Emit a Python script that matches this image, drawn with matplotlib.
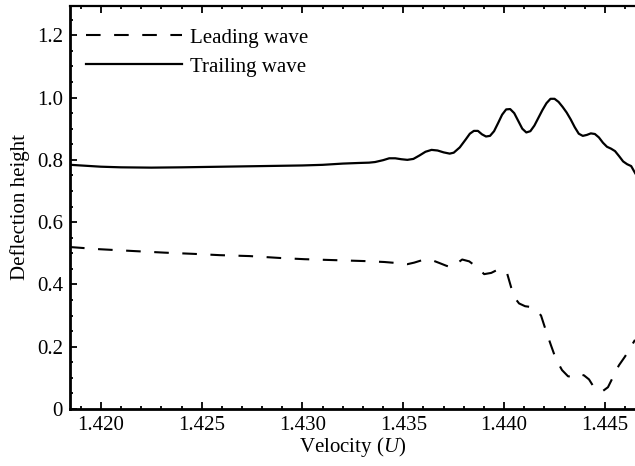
import numpy as np
import matplotlib
matplotlib.use('Agg')
import matplotlib.pyplot as plt
from matplotlib.ticker import MultipleLocator, FixedLocator

# trailing wave (solid)
trail_v = [1.4185, 1.4190, 1.4200, 1.4210, 1.4225, 1.4240, 1.4260, 1.4280, 1.4300,
           1.4310, 1.4320, 1.4328, 1.4333, 1.4336, 1.4340, 1.4343, 1.4346, 1.4349,
           1.4352, 1.4355, 1.4358, 1.4361, 1.4364, 1.4367, 1.4370, 1.4373, 1.4375,
           1.4378, 1.4381, 1.4383, 1.4385, 1.4387, 1.4389, 1.4391, 1.4393, 1.4395,
           1.4397, 1.4399, 1.4401, 1.4403, 1.4405, 1.4407, 1.4409, 1.4411, 1.4413,
           1.4415, 1.4417, 1.4419, 1.4421, 1.4423, 1.4425, 1.4427, 1.4429, 1.4431,
           1.4433, 1.4435, 1.4437, 1.4439, 1.4441, 1.4443, 1.4445, 1.4447, 1.4449,
           1.4451, 1.4453, 1.4455, 1.4457, 1.4459, 1.4461, 1.4463, 1.4465]
trail_h = [0.784, 0.782, 0.778, 0.776, 0.775, 0.776, 0.778, 0.780, 0.782,
           0.784, 0.788, 0.790, 0.791, 0.793, 0.799, 0.805, 0.805, 0.802,
           0.800, 0.803, 0.814, 0.826, 0.832, 0.830, 0.824, 0.820, 0.823,
           0.840, 0.866, 0.884, 0.893, 0.893, 0.882, 0.875, 0.877, 0.892,
           0.918, 0.945, 0.962, 0.963, 0.950, 0.925, 0.900, 0.888, 0.892,
           0.910, 0.935, 0.960, 0.982, 0.996, 0.996, 0.986, 0.970, 0.952,
           0.930, 0.905, 0.884, 0.877, 0.880, 0.885, 0.883, 0.872, 0.855,
           0.842, 0.836, 0.828, 0.812, 0.795, 0.786, 0.780, 0.757]

# leading wave (dashed)
lead_v = [1.41847, 1.41995, 1.42168, 1.42317, 1.42465, 1.42589, 1.42738, 1.42886,
          1.43010, 1.43158, 1.43307, 1.43406, 1.43480, 1.43520, 1.43554, 1.43604,
          1.43638, 1.43678, 1.43713, 1.43737, 1.43767, 1.43792, 1.43827, 1.43866,
          1.43901, 1.43936, 1.43970, 1.43995, 1.44015, 1.44035, 1.44055, 1.44074,
          1.44104, 1.44139, 1.44163, 1.44183, 1.44208, 1.44232, 1.44257, 1.44287,
          1.44317, 1.44346, 1.44371, 1.44396, 1.44421, 1.44445, 1.44470, 1.44490,
          1.44515, 1.44544, 1.44569, 1.44599, 1.44629, 1.44649]
lead_h = [0.520, 0.513, 0.507, 0.502, 0.498, 0.494, 0.491, 0.485,
          0.481, 0.478, 0.475, 0.472, 0.468, 0.465, 0.470, 0.480,
          0.479, 0.469, 0.460, 0.455, 0.468, 0.480, 0.474, 0.455,
          0.433, 0.437, 0.448, 0.447, 0.435, 0.390, 0.355, 0.339,
          0.330, 0.327, 0.315, 0.300, 0.250, 0.205, 0.160, 0.125,
          0.105, 0.103, 0.112, 0.108, 0.095, 0.070, 0.057, 0.058,
          0.070, 0.108, 0.140, 0.168, 0.200, 0.222]

yticks = [0, 0.2, 0.4, 0.6, 0.8, 1.0, 1.2]
ytick_labels = ['0', '0.2', '0.4', '0.6', '0.8', '1.0', '1.2']
xticks = [1.420, 1.425, 1.430, 1.435, 1.440, 1.445]

plt.rcParams['font.family'] = ['Liberation Serif', 'DejaVu Serif']
plt.rcParams['mathtext.fontset'] = 'custom'
plt.rcParams['mathtext.it'] = 'Liberation Serif:italic'
plt.rcParams['mathtext.rm'] = 'Liberation Serif'

fs = 15

fig = plt.figure(figsize=(6.35, 4.66), dpi=100)
ax = fig.add_axes([70/635, 57/466, 565/635, 403/466])

ax.plot(lead_v, lead_h, color='k', lw=1.5, dashes=(7.0, 6.5), label='Leading wave')
ax.plot(trail_v, trail_h, color='k', lw=1.6, label='Trailing wave')

ax.set_xlim(1.41847, 1.44649)
ax.set_ylim(0, 1.294)

ax.xaxis.set_major_locator(FixedLocator(xticks))
ax.xaxis.set_minor_locator(MultipleLocator(0.001))
ax.set_xticklabels([f'{t:.3f}' for t in xticks])
ax.yaxis.set_major_locator(FixedLocator(yticks))
ax.yaxis.set_minor_locator(MultipleLocator(0.05))
ax.set_yticklabels(ytick_labels)

ax.tick_params(which='both', direction='in', top=True, right=False,
               labelsize=fs, width=1.3, pad=5)
ax.tick_params(which='major', length=5)
ax.tick_params(which='minor', length=2.5)

ax.spines['right'].set_visible(False)
for s in ['left', 'bottom']:
    ax.spines[s].set_linewidth(2.0)
ax.spines['top'].set_linewidth(1.6)

ax.set_xlabel('Velocity ($U$)', fontsize=fs, labelpad=0)
ax.set_ylabel('Deflection height', fontsize=fs)
ax.yaxis.set_label_coords(-0.071, 0.5)

ax.legend(loc='upper left', bbox_to_anchor=(0.028, 0.945), frameon=False,
          fontsize=fs, handlelength=4.6, handletextpad=0.4,
          labelspacing=0.45, borderpad=0, borderaxespad=0)

fig.savefig('out.png', dpi=100)
